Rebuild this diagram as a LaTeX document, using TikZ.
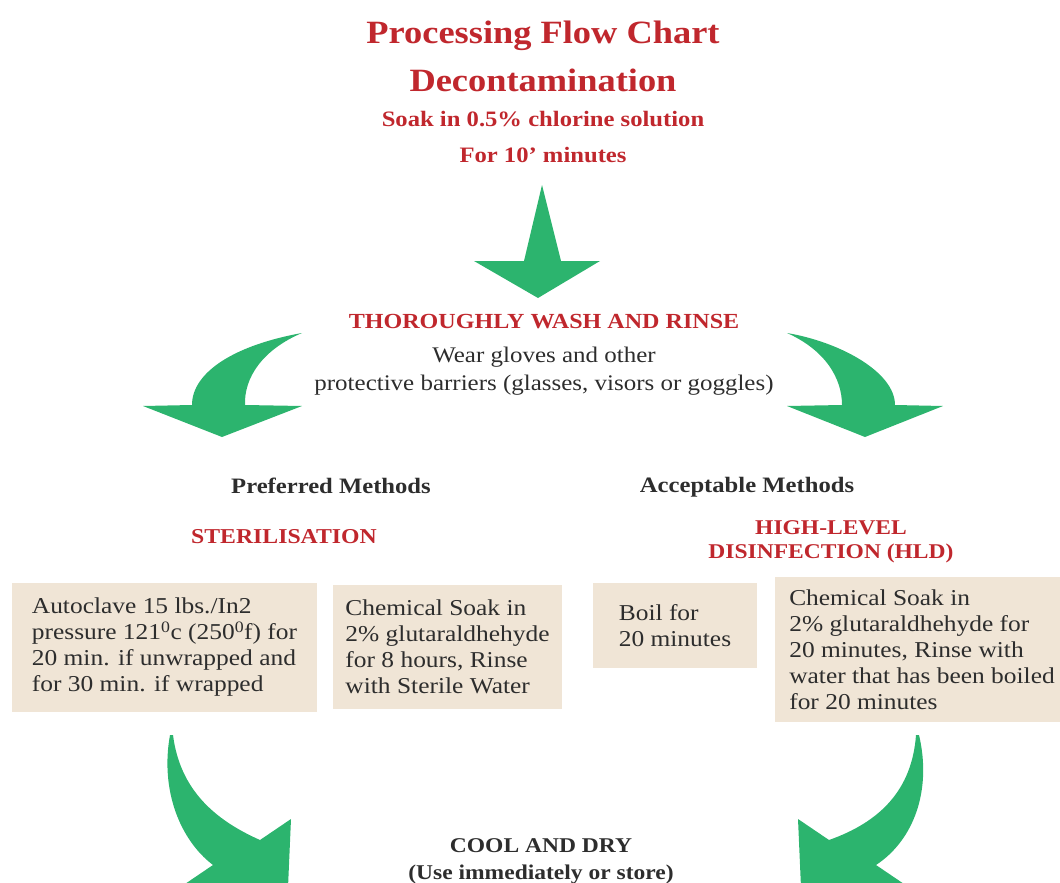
\documentclass[tikz,border=0pt]{standalone}
\usepackage{fontspec}
\setmainfont[FakeStretch=1.12]{Liberation Serif}
\usetikzlibrary{positioning}

\definecolor{chartred}{RGB}{192,39,45}
\definecolor{arrowgreen}{RGB}{44,180,110}
\definecolor{boxtan}{RGB}{240,229,214}
\definecolor{inkgray}{RGB}{45,45,45}

\begin{document}
\begin{tikzpicture}[x=1pt,y=-1pt,
  title/.style={text=chartred,align=center,font=\bfseries\fontsize{32.5}{48}\selectfont},
  redline/.style={text=chartred,align=center,font=\bfseries\fontsize{21.5}{36}\selectfont},
  methodline/.style={text=inkgray,align=center,font=\bfseries\fontsize{21}{27}\selectfont},
  plainline/.style={text=inkgray,align=center,font=\fontsize{22.3}{28}\selectfont},
  stepbox/.style={fill=boxtan,text=inkgray,align=left,inner sep=0pt,
    font=\fontsize{22.7}{26}\selectfont},
  bigarrow/.style={fill=arrowgreen}]

  \useasboundingbox (0,0) rectangle (1060,883);
  \clip (0,0) rectangle (1060,883);

  % heading
  \node[title] (title) at (543,56) {Processing Flow Chart\\Decontamination};
  \node[redline,font=\bfseries\fontsize{22}{36}\selectfont] (soak) at (543,137) {Soak in 0.5\% chlorine solution\\For 10' minutes};

  % wash step
  \node[redline] (wash) at (544,322) {THOROUGHLY WASH AND RINSE};
  \node[plainline] (gloves) at (544,371) {Wear gloves and other\\protective barriers (glasses, visors or goggles)};

  % two branches
  \node[methodline,font=\bfseries\fontsize{22}{27}\selectfont] (pref) at (331,486) {Preferred Methods};
  \node[methodline,font=\bfseries\fontsize{22}{27}\selectfont] (accept) at (747,487) {Acceptable Methods};
  \node[redline,font=\bfseries\fontsize{21.2}{24}\selectfont] (steril) at (284,537) {STERILISATION};
  \node[redline,font=\bfseries\fontsize{21}{24}\selectfont] (hld) at (831,542) {HIGH-LEVEL\\DISINFECTION (HLD)};

  \node[stepbox,minimum width=305,minimum height=129] (autoclave) at (164.5,647.5)
    {Autoclave 15 lbs./In2\\pressure 121\textsuperscript{0}c (250\textsuperscript{0}f) for\\20 min. if unwrapped and\\for 30 min. if wrapped};
  \node[stepbox,minimum width=229,minimum height=124] (soakster) at (447.5,647)
    {Chemical Soak in\\2\% glutaraldhehyde\\for 8 hours, Rinse\\with Sterile Water};
  \node[stepbox,minimum width=164,minimum height=85] (boil) at (675,625.5)
    {Boil for\\20 minutes};
  \node[stepbox,minimum width=294,minimum height=145] (soakhld) at (922,649.5)
    {Chemical Soak in\\2\% glutaraldhehyde for\\20 minutes, Rinse with\\water that has been boiled\\for 20 minutes};

  % last step
  \node[methodline] (cool) at (541,861) {COOL AND DRY\\(Use immediately or store)};

  % arrows
  \fill[bigarrow] (542,185) -- (561,261) -- (600,261) -- (538,298) -- (474,261) -- (524,261) -- cycle;
  \fill[bigarrow] (302,333) .. controls (235,345) and (192,372) .. (192,405)
    -- (143,406) -- (222,437) -- (302,406) -- (245,405)
    .. controls (244,378) and (262,350) .. (302,333) -- cycle;
  \fill[bigarrow] (787,333) .. controls (840,342) and (895,372) .. (895,405)
    -- (943,406) -- (865,437) -- (787,406) -- (842,405)
    .. controls (842,378) and (825,350) .. (787,333) -- cycle;
  \fill[bigarrow] (170,735) .. controls (160,790) and (180,840) .. (213,865)
    -- (182,886) -- (286,933) -- (291,819) -- (260,840)
    .. controls (215,820) and (180,790) .. (173,735) -- cycle;
  \fill[bigarrow] (919,735) .. controls (932,790) and (914,840) .. (876,865)
    -- (907,886) -- (803,933) -- (798,819) -- (829,840)
    .. controls (880,822) and (912,790) .. (916,735) -- cycle;
\end{tikzpicture}
\end{document}
